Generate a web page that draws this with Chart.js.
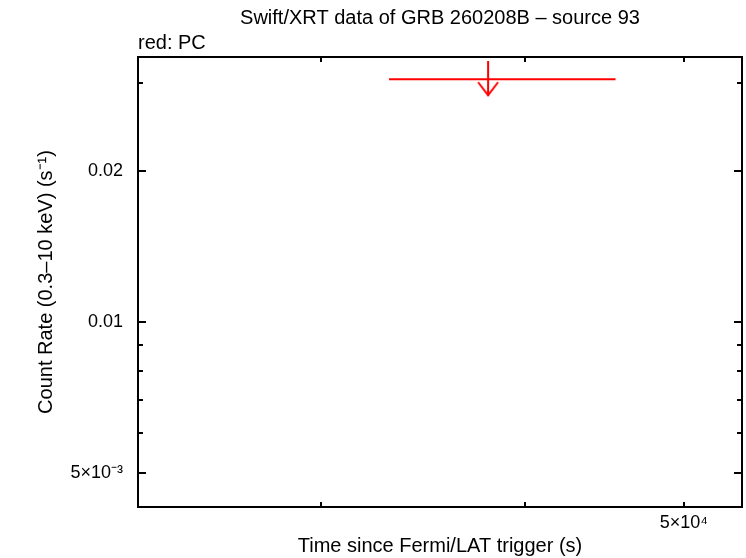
<!DOCTYPE html>
<html>
<head>
<meta charset="utf-8">
<script src="https://cdn.jsdelivr.net/npm/chart.js@4/dist/chart.umd.min.js"></script>
<style>
    html, body { margin: 0; padding: 0; background: #fff; }
    #wrap { width: 746px; height: 558px; }
</style>
</head>
<body>
<div id="wrap"><canvas id="lc" width="746" height="558"></canvas></div>
<script>
// PC mode upper limit (one bin)
const pcTime = [37960]
const pcTimeStart = [33020]
const pcTimeStop = [45420]
const pcRate = [0.0305]

const xTickValues = [30000, 40000, 50000]
const xTickLabels = { 50000: '5×10⁴' }
const yTickValues = [0.005, 0.006, 0.007, 0.008, 0.009, 0.01, 0.02, 0.03]
const yTickLabels = { 0.005: '5×10⁻³', 0.01: '0.01', 0.02: '0.02' }

const X_MIN = 23190, X_MAX = 54270
const Y_MIN = 0.00428, Y_MAX = 0.03376
const FONT = 'Liberation Sans, Arial, Helvetica, sans-serif'
const RED = '#ff0000'

// open down-arrow used as the point style of an upper limit
function makeArrow() {
    const c = document.createElement('canvas')
    c.width = 24
    c.height = 36
    const g = c.getContext('2d')
    g.strokeStyle = RED
    g.lineWidth = 2
    g.beginPath()
    g.moveTo(12, 0)
    g.lineTo(12, 35)
    g.moveTo(2, 21)
    g.lineTo(12, 34)
    g.lineTo(22, 21)
    g.stroke()
    return c
}

// frame + inward ticks on all four sides, gnuplot style
const framePlugin = {
    id: 'frame',
    afterDraw(chart) {
        const { ctx, chartArea: a, scales } = chart
        ctx.save()
        ctx.strokeStyle = '#000'
        ctx.lineWidth = 2
        ctx.strokeRect(a.left, a.top, a.right - a.left, a.bottom - a.top)
        ctx.beginPath()
        xTickValues.forEach(v => {
            const px = Math.round(scales.x.getPixelForValue(v))
            ctx.moveTo(px, a.bottom); ctx.lineTo(px, a.bottom - 5)
            ctx.moveTo(px, a.top); ctx.lineTo(px, a.top + 5)
        })
        yTickValues.forEach(v => {
            const py = Math.round(scales.y.getPixelForValue(v))
            const len = yTickLabels[v] ? 8 : 5
            ctx.moveTo(a.left, py); ctx.lineTo(a.left + len, py)
            ctx.moveTo(a.right, py); ctx.lineTo(a.right - len, py)
        })
        ctx.stroke()
        ctx.restore()
    }
}

const data = {
    datasets: [
        {
            label: 'PC time range',
            data: pcTime.map((t, i) => [
                { x: pcTimeStart[i], y: pcRate[i] },
                { x: pcTimeStop[i], y: pcRate[i] }
            ]).flat(),
            showLine: true,
            borderColor: RED,
            borderWidth: 2,
            pointRadius: 0
        },
        {
            label: 'PC upper limit',
            data: pcTime.map((t, i) => ({ x: t, y: pcRate[i] })),
            showLine: false,
            pointStyle: makeArrow(),
            pointRadius: 10
        }
    ]
}

const config = {
    type: 'scatter',
    data: data,
    plugins: [framePlugin],
    options: {
        responsive: false,
        animation: false,
        events: [],
        layout: { autoPadding: false, padding: { right: 4 } },
        plugins: {
            legend: { display: false },
            tooltip: { enabled: false },
            title: {
                display: true,
                fullSize: false,
                text: 'Swift/XRT data of GRB 260208B – source 93',
                color: '#000',
                font: { family: FONT, size: 20, weight: 'normal' },
                padding: { top: 6, bottom: 1 }
            },
            subtitle: {
                display: true,
                fullSize: false,
                align: 'start',
                text: 'red: PC',
                color: '#000',
                font: { family: FONT, size: 20, weight: 'normal' },
                padding: { top: 0, bottom: 2 }
            }
        },
        scales: {
            x: {
                type: 'logarithmic',
                min: X_MIN,
                max: X_MAX,
                afterBuildTicks: scale => {
                    scale.ticks = xTickValues.map(v => ({ value: v }))
                },
                afterFit: scale => {
                    scale.height = 51
                    scale.paddingLeft = 0
                    scale.paddingRight = 0
                },
                ticks: {
                    autoSkip: false,
                    maxRotation: 0,
                    padding: 5,
                    color: '#000',
                    font: { family: FONT, size: 18 },
                    callback: v => xTickLabels[v] || ''
                },
                grid: { display: false, drawTicks: false },
                border: { display: false },
                title: {
                    display: true,
                    text: 'Time since Fermi/LAT trigger (s)',
                    color: '#000',
                    font: { family: FONT, size: 20 },
                    padding: { top: 0, bottom: 0 }
                }
            },
            y: {
                type: 'logarithmic',
                min: Y_MIN,
                max: Y_MAX,
                afterBuildTicks: scale => {
                    scale.ticks = yTickValues.map(v => ({ value: v }))
                },
                afterFit: scale => { scale.width = 138 },
                ticks: {
                    autoSkip: false,
                    padding: 15,
                    color: '#000',
                    font: { family: FONT, size: 18 },
                    callback: v => yTickLabels[v] || ''
                },
                grid: { display: false, drawTicks: false },
                border: { display: false },
                title: {
                    display: true,
                    text: 'Count Rate (0.3–10 keV) (s⁻¹)',
                    color: '#000',
                    font: { family: FONT, size: 20 },
                    padding: { top: 34, bottom: 0 }
                }
            }
        }
    }
}

new Chart(document.getElementById('lc'), config)
</script>
</body>
</html>
